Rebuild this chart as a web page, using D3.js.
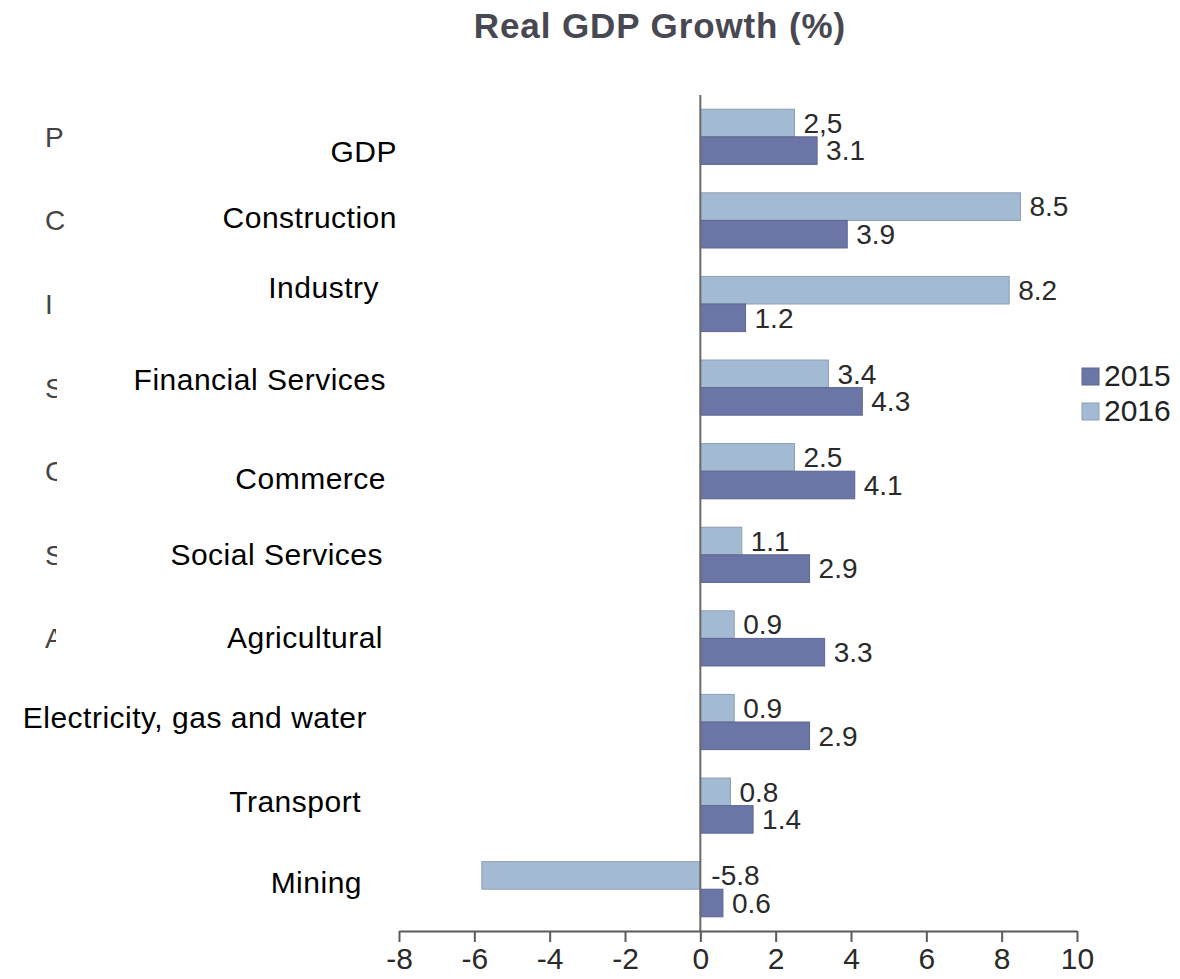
<!DOCTYPE html>
<html>
<head>
<meta charset="utf-8">
<script src="https://cdn.jsdelivr.net/npm/d3@7/dist/d3.min.js"></script>
<style>
  html, body { margin: 0; padding: 0; background: #fff; }
  svg { display: block; font-family: "Liberation Sans", Arial, Helvetica, sans-serif; }
</style>
</head>
<body>
<svg id="chart" width="1180" height="979"></svg>
<script>
// ---- data ----
const categories = ["GDP", "Construction", "Industry", "Financial Services", "Commerce",
  "Social Services", "Agricultural", "Electricity, gas and water", "Transport", "Mining"];
const series = ["2016", "2015"];               // drawing order inside each group (top to bottom)
const values2015 = [3.1, 3.9, 1.2, 4.3, 4.1, 2.9, 3.3, 2.9, 1.4, 0.6];
const values2016 = [2.5, 8.5, 8.2, 3.4, 2.5, 1.1, 0.9, 0.9, 0.8, -5.8];
const labels2016 = ["2,5", "8.5", "8.2", "3.4", "2.5", "1.1", "0.9", "0.9", "0.8", "-5.8"];
const labels2015 = ["3.1", "3.9", "1.2", "4.3", "4.1", "2.9", "3.3", "2.9", "1.4", "0.6"];
const xTicks = [-8, -6, -4, -2, 0, 2, 4, 6, 8, 10];
const legendItems = ["2015", "2016"];
const ghostLetters = ["P", "C", "I", "S", "C", "S", "A"];
const titleText = "Real GDP Growth (%)";

// ---- layout / style ----
const colors = { "2015": "#6b76a6", "2016": "#a2bad2" };
const strokes = { "2015": "#5d6791", "2016": "#8e9fb4" };
// per-label nudges of the overlaid category labels (right edge x, vertical offset)
const labelRight = [397, 397, 379, 386, 386, 383, 383, 367, 361, 362];
const labelDy = [15, -3, -17, -8, 7, 0, -1, -5, -4, -7];
const ghostVisible = [30, 30, 30, 10, 10, 10, 9];

const svg = d3.select("#chart");

const x = d3.scaleLinear().domain([-8, 10]).range([399, 1077]);
const y = d3.scaleBand().domain(categories).range([95, 931]).paddingInner(0.34).paddingOuter(0.17);
const ySub = d3.scaleBand().domain(series).range([0, y.bandwidth()]);

// title
svg.append("text")
  .attr("x", 660).attr("y", 38)
  .attr("text-anchor", "middle")
  .attr("font-size", 35).attr("font-weight", "bold")
  .attr("letter-spacing", 0.9)
  .attr("fill", "#474852")
  .text(titleText);

// ghost (partially hidden) original labels
const defs = svg.append("defs");
ghostLetters.forEach((g, i) => {
  const cy = y(categories[i]) + y.bandwidth() / 2;
  defs.append("clipPath").attr("id", "gclip" + i)
    .append("rect").attr("x", 40).attr("y", cy - 25)
    .attr("width", 7 + ghostVisible[i]).attr("height", 50);
  svg.append("text")
    .attr("x", 45).attr("y", cy + 10)
    .attr("font-size", 28).attr("fill", "#444")
    .attr("clip-path", "url(#gclip" + i + ")")
    .text(g);
});

// bars
const rows = categories.map((c, i) => ({ c, i, v: { "2015": values2015[i], "2016": values2016[i] },
  l: { "2015": labels2015[i], "2016": labels2016[i] } }));

const groups = svg.append("g").selectAll("g").data(rows).join("g")
  .attr("transform", d => `translate(0,${y(d.c)})`);

groups.selectAll("rect").data(d => series.map(s => ({ s, v: d.v[s] }))).join("rect")
  .attr("x", d => x(Math.min(0, d.v)))
  .attr("y", d => ySub(d.s))
  .attr("width", d => Math.abs(x(d.v) - x(0)))
  .attr("height", ySub.bandwidth())
  .attr("fill", d => colors[d.s])
  .attr("stroke", d => strokes[d.s])
  .attr("stroke-width", 1);

groups.selectAll("text.val").data(d => series.map(s => ({ s, v: d.v[s], l: d.l[s] }))).join("text")
  .attr("class", "val")
  .attr("x", d => x(Math.max(0, d.v)) + (d.v < 0 ? 11 : 9))
  .attr("y", d => ySub(d.s) + ySub.bandwidth() - 4)
  .attr("font-size", 28).attr("fill", "#2a2a2a")
  .text(d => d.l);

// vertical zero line
svg.append("line")
  .attr("x1", x(0)).attr("x2", x(0))
  .attr("y1", 95).attr("y2", 931)
  .attr("stroke", "#6a6a6a").attr("stroke-width", 2);

// x axis
const xAxis = svg.append("g").attr("transform", "translate(0,931)")
  .call(d3.axisBottom(x).tickValues(xTicks).tickSize(11).tickPadding(6).tickSizeOuter(0));
xAxis.select(".domain").attr("stroke", "#5a5a5a").attr("stroke-width", 2);
xAxis.selectAll(".tick line").attr("stroke", "#5a5a5a").attr("stroke-width", 2);
xAxis.selectAll(".tick text")
  .attr("font-size", 30).attr("fill", "#2a2a2a")
  .attr("font-family", "Liberation Sans, Arial, sans-serif")
  .text(d => d);

// category labels
svg.append("g").selectAll("text").data(categories).join("text")
  .attr("x", (d, i) => labelRight[i])
  .attr("y", (d, i) => y(d) + y.bandwidth() / 2 + labelDy[i] + 10.5)
  .attr("text-anchor", "end")
  .attr("font-size", 30).attr("letter-spacing", 0.5)
  .attr("fill", "#000")
  .text(d => d);

// legend
const leg = svg.append("g").selectAll("g").data(legendItems).join("g")
  .attr("transform", (d, i) => `translate(1082,${368 + i * 35})`);
leg.append("rect").attr("width", 17).attr("height", 17)
  .attr("fill", d => colors[d]).attr("stroke", d => strokes[d]);
leg.append("text").attr("x", 22).attr("y", 18)
  .attr("font-size", 30).attr("fill", "#222")
  .text(d => d);
</script>
</body>
</html>
